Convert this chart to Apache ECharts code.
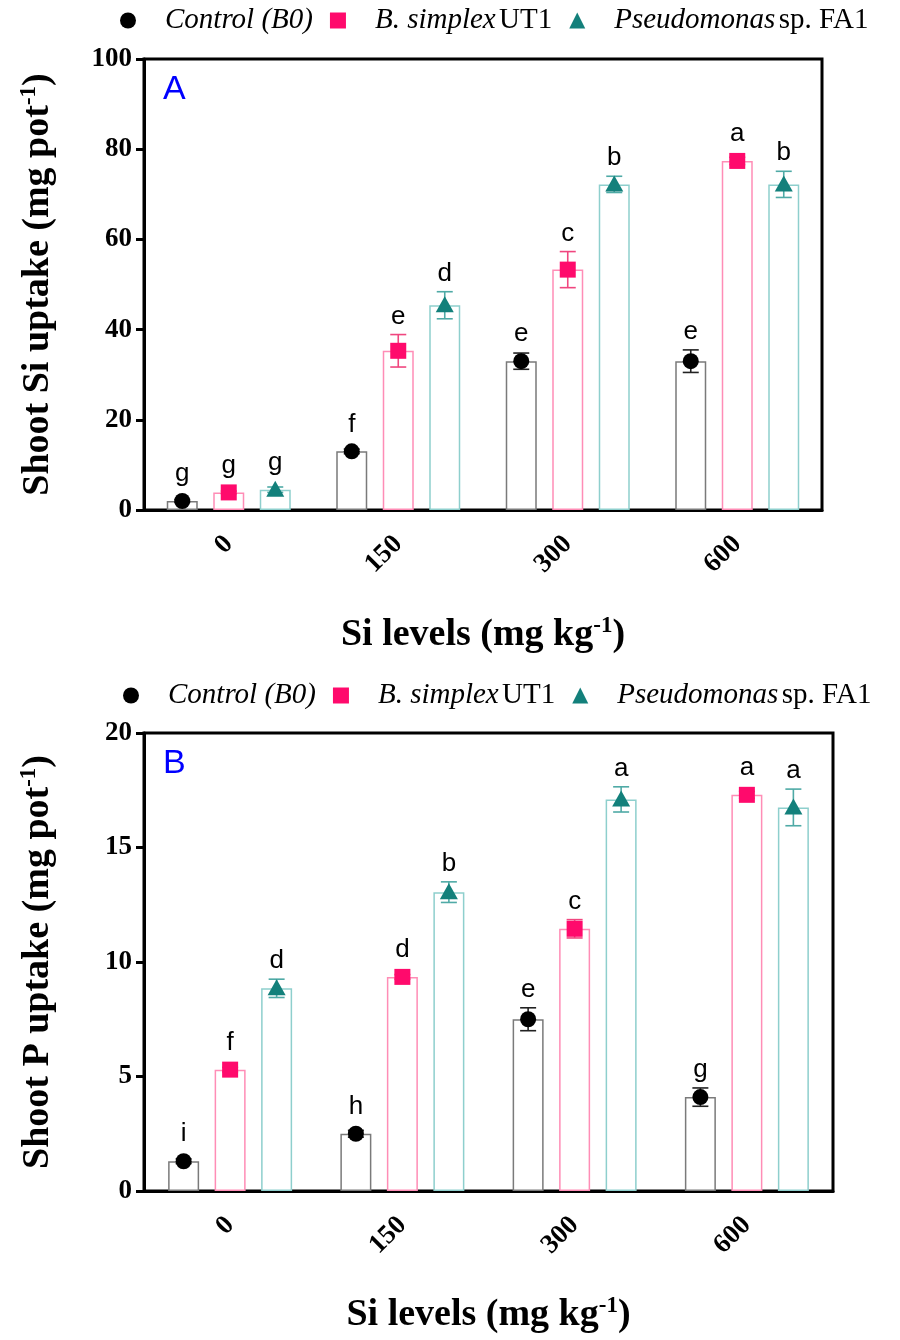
<!DOCTYPE html>
<html>
<head>
<meta charset="utf-8">
<script src="https://cdn.jsdelivr.net/npm/echarts@6/dist/echarts.min.js"></script>
<style>
  html, body { margin: 0; padding: 0; background: #fff; }
  #chart { width: 900px; height: 1340px; }
</style>
</head>
<body>
<div id="chart"></div>
<script>
// Si levels (mg kg-1)
const levels = ['0', '150', '300', '600']
const yTicksA = [0, 100, 20]
const yTicksB = [0, 20, 5]

// panel A: shoot Si uptake
const siControl = [2.0, 13.0, 33.0, 33.0]
const siControlErr = [0.3, 0.5, 1.8, 2.5]
const siControlLetters = ['g', 'f', 'e', 'e']
const siUT1 = [3.9, 35.3, 53.3, 77.4]
const siUT1Err = [0.3, 3.6, 4.0, 0.8]
const siUT1Letters = ['g', 'e', 'c', 'a']
const siFA1 = [4.5, 45.4, 72.2, 72.2]
const siFA1Err = [0.6, 3.0, 1.8, 2.9]
const siFA1Letters = ['g', 'd', 'b', 'b']

// panel B: shoot P uptake
const pControl = [1.3, 2.5, 7.5, 4.1]
const pControlErr = [0.1, 0.15, 0.5, 0.4]
const pControlLetters = ['i', 'h', 'e', 'g']
const pUT1 = [5.3, 9.35, 11.45, 17.3]
const pUT1Err = [0.1, 0.1, 0.4, 0.15]
const pUT1Letters = ['f', 'd', 'c', 'a']
const pFA1 = [8.85, 13.05, 17.1, 16.75]
const pFA1Err = [0.4, 0.45, 0.55, 0.8]
const pFA1Letters = ['d', 'b', 'a', 'a']

const names = ['Control (B0)', 'B. simplex UT1', 'Pseudomonas sp. FA1']
const legendText = {
  'Control (B0)': '{i|Control (B0)}',
  'B. simplex UT1': '{i|B. simplex} {n|UT1}',
  'Pseudomonas sp. FA1': '{i|Pseudomonas} {n|sp. FA1}',
}

const serif = 'Liberation Serif'
const sans = 'Liberation Sans'
const markerColor = ['#000000', '#FF0A6C', '#13807B']
const errColor = ['#222222', '#F0467F', '#4FAAA6']
const barBorder = ['#7a7a7a', '#FF8DB6', '#8ECFCD']
const shapes = ['circle', 'rect', 'triangle']
const barW = 31
const step = barW * 1.5

function markerSeries(k, panel, vals, errs, letters) {
  return {
    name: names[k],
    type: 'custom',
    xAxisIndex: panel,
    yAxisIndex: panel,
    z: 5,
    itemStyle: { color: markerColor[k] },
    data: vals.map((v, i) => [i, v, errs[i]]),
    renderItem: function (params, api) {
      const cat = api.value(0)
      const v = api.value(1)
      const e = api.value(2)
      const p = api.coord([cat, v])
      const x = p[0] + (k - 1) * step
      const y = p[1]
      const yTop = api.coord([cat, v + e])[1]
      const yBot = api.coord([cat, v - e])[1]
      const ls = { stroke: errColor[k], lineWidth: 1.6 }
      let marker
      if (shapes[k] === 'circle') {
        marker = { type: 'circle', shape: { cx: x, cy: y, r: 8 }, style: { fill: markerColor[k] } }
      } else if (shapes[k] === 'rect') {
        marker = { type: 'rect', shape: { x: x - 8, y: y - 8, width: 16, height: 16 }, style: { fill: markerColor[k] } }
      } else {
        marker = { type: 'polygon', shape: { points: [[x, y - 9], [x + 9, y + 7], [x - 9, y + 7]] }, style: { fill: markerColor[k] } }
      }
      return {
        type: 'group',
        children: [
          { type: 'line', shape: { x1: x, y1: yTop, x2: x, y2: yBot }, style: ls },
          { type: 'line', shape: { x1: x - 8, y1: yTop, x2: x + 8, y2: yTop }, style: ls },
          { type: 'line', shape: { x1: x - 8, y1: yBot, x2: x + 8, y2: yBot }, style: ls },
          marker,
          {
            type: 'text',
            style: {
              text: letters[params.dataIndex],
              x: x,
              y: Math.min(yTop, y - 9) - 5,
              align: 'center',
              verticalAlign: 'bottom',
              fontFamily: sans,
              fontSize: 26,
              fill: '#000',
            },
          },
        ],
      }
    },
  }
}

function barSeries(k, panel, vals) {
  return {
    name: names[k] + ' bar',
    type: 'bar',
    xAxisIndex: panel,
    yAxisIndex: panel,
    barWidth: barW,
    barGap: '50%',
    itemStyle: { color: '#fff', borderColor: barBorder[k], borderWidth: 1.5 },
    data: vals,
  }
}

function legend(top, left) {
  return {
    top: top,
    left: left,
    itemWidth: 16,
    itemHeight: 16,
    itemGap: 17,
    data: names.map((n, k) => ({ name: n, icon: shapes[k], itemStyle: { color: markerColor[k] } })),
    formatter: n => legendText[n],
    textStyle: {
      padding: [0, 0, 0, 24],
      rich: {
        i: { fontFamily: serif, fontStyle: 'italic', fontSize: 29, color: '#000' },
        n: { fontFamily: serif, fontSize: 29, color: '#000' },
      },
    },
  }
}

const nameRich = size => ({
  t: { fontFamily: serif, fontWeight: 'bold', fontSize: size, color: '#000' },
  s: { fontFamily: serif, fontWeight: 'bold', fontSize: Math.round(size * 0.6), color: '#000', padding: [0, 0, Math.round(size * 0.45), 0] },
})

function xAxis(panel) {
  return {
    type: 'category',
    gridIndex: panel,
    data: levels,
    boundaryGap: true,
    name: '{t|Si levels (mg kg}{s|-1}{t|)}',
    nameLocation: 'middle',
    nameGap: panel === 0 ? 105 : 104,
    nameTextStyle: { rich: nameRich(38) },
    axisLine: { lineStyle: { color: '#000', width: 3 } },
    axisTick: { alignWithLabel: true, length: 9, lineStyle: { color: '#000', width: 3 } },
    axisLabel: { rotate: 45, margin: 30, fontFamily: serif, fontWeight: 'bold', fontSize: 27, color: '#000' },
  }
}

function yAxis(panel, ticks, title) {
  return {
    type: 'value',
    gridIndex: panel,
    min: ticks[0],
    max: ticks[1],
    interval: ticks[2],
    name: '{t|' + title + ' (mg pot}{s|-1}{t|)}',
    nameLocation: 'middle',
    nameGap: 86,
    nameTextStyle: { rich: nameRich(38) },
    splitLine: { show: false },
    axisLine: { show: true, lineStyle: { color: '#000', width: 3 } },
    axisTick: { show: true, length: 8, lineStyle: { color: '#000', width: 3 } },
    axisLabel: { margin: 12, fontFamily: serif, fontWeight: 'bold', fontSize: 27, color: '#000' },
  }
}

const chart = echarts.init(document.getElementById('chart'), null, { renderer: 'canvas' })
chart.setOption({
  animation: false,
  backgroundColor: '#fff',
  title: [
    { text: 'A', left: 158, top: 68, textStyle: { color: '#0000FF', fontFamily: sans, fontWeight: 'normal', fontSize: 34 } },
    { text: 'B', left: 158, top: 742, textStyle: { color: '#0000FF', fontFamily: sans, fontWeight: 'normal', fontSize: 34 } },
  ],
  legend: [legend(1, 115), legend(676, 118)],
  grid: [
    { left: 144, top: 59, width: 678, height: 451, show: true, borderColor: '#000', borderWidth: 3, containLabel: false },
    { left: 144, top: 733, width: 689, height: 458, show: true, borderColor: '#000', borderWidth: 3, containLabel: false },
  ],
  xAxis: [xAxis(0), xAxis(1)],
  yAxis: [yAxis(0, yTicksA, 'Shoot Si uptake'), yAxis(1, yTicksB, 'Shoot P uptake')],
  series: [
    barSeries(0, 0, siControl),
    barSeries(1, 0, siUT1),
    barSeries(2, 0, siFA1),
    barSeries(0, 1, pControl),
    barSeries(1, 1, pUT1),
    barSeries(2, 1, pFA1),
    markerSeries(0, 0, siControl, siControlErr, siControlLetters),
    markerSeries(1, 0, siUT1, siUT1Err, siUT1Letters),
    markerSeries(2, 0, siFA1, siFA1Err, siFA1Letters),
    markerSeries(0, 1, pControl, pControlErr, pControlLetters),
    markerSeries(1, 1, pUT1, pUT1Err, pUT1Letters),
    markerSeries(2, 1, pFA1, pFA1Err, pFA1Letters),
  ],
})
</script>
</body>
</html>
